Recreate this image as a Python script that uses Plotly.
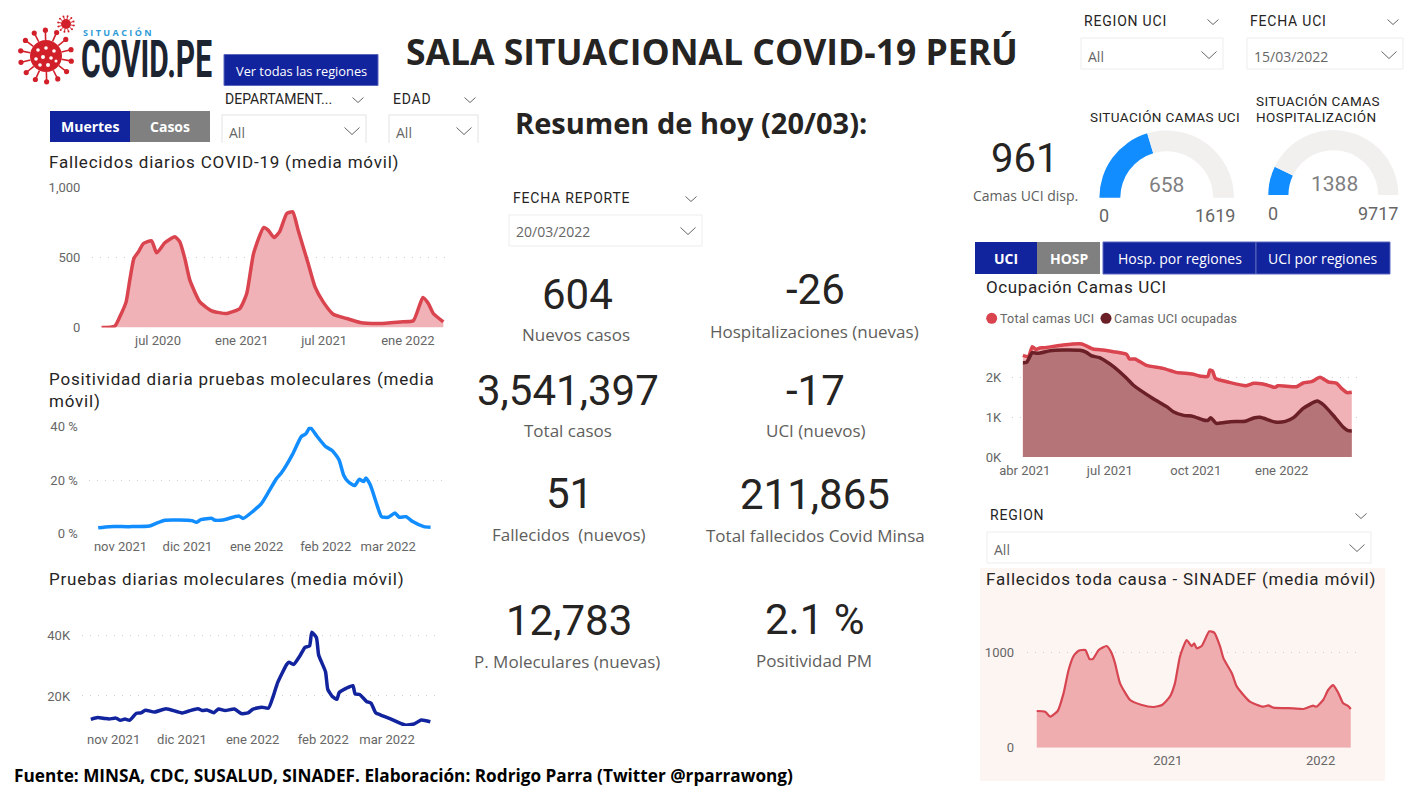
import json
import math
import plotly.graph_objects as go

W, H = 1414, 791

# ---------- DATA ----------
muertes_fechas = ["2020-02-28","2020-03-28","2020-04-08","2020-04-22","2020-04-30","2020-05-09","2020-05-19","2020-05-30","2020-06-17","2020-06-28","2020-07-16","2020-08-07","2020-08-18","2020-08-29","2020-09-09","2020-10-01","2020-10-27","2020-11-29","2020-12-28","2021-01-12","2021-01-27","2021-02-18","2021-02-28","2021-03-13","2021-03-25","2021-04-10","2021-04-23","2021-05-05","2021-05-27","2021-06-11","2021-06-29","2021-07-21","2021-08-20","2021-09-18","2021-11-01","2021-12-15","2022-01-13","2022-02-03","2022-02-15","2022-02-26","2022-03-20"]
muertes_valores = [0,10,76,183,338,493,540,600,619,533,605,648,612,493,338,183,119,100,136,243,529,714,695,643,683,814,826,695,457,290,183,95,64,36,29,40,48,214,171,100,40]

positividad_fechas = ["2021-10-22","2021-10-27","2021-11-05","2021-11-14","2021-11-17","2021-11-21","2021-12-03","2021-12-05","2021-12-07","2021-12-12","2021-12-13","2021-12-17","2021-12-24","2021-12-26","2022-01-03","2022-01-06","2022-01-10","2022-01-12","2022-01-17","2022-01-21","2022-01-23","2022-01-25","2022-01-28","2022-02-01","2022-02-04","2022-02-07","2022-02-09","2022-02-11","2022-02-14","2022-02-16","2022-02-18","2022-02-19","2022-02-21","2022-02-24","2022-02-26","2022-03-01","2022-03-04","2022-03-06","2022-03-09","2022-03-12","2022-03-17","2022-03-20"]
positividad_valores = [2.1,2.5,2.5,2.75,3.75,4.9,4.75,4.1,5.1,5.6,5,5,6.5,5.6,11,15,20.6,22.5,29.4,36.25,37.25,39.75,36.5,32.5,31,27.5,21.9,19.4,17.9,20.25,19.4,20.75,18.1,10.6,6.25,6,7.6,6,6.25,4.4,2.5,2.25]

pruebas_fechas = ["2021-10-22","2021-10-25","2021-10-28","2021-10-30","2021-11-02","2021-11-04","2021-11-06","2021-11-08","2021-11-11","2021-11-13","2021-11-15","2021-11-19","2021-11-24","2021-12-01","2021-12-04","2021-12-08","2021-12-10","2021-12-12","2021-12-15","2021-12-17","2021-12-20","2021-12-24","2021-12-27","2021-12-30","2022-01-01","2022-01-05","2022-01-08","2022-01-10","2022-01-12","2022-01-16","2022-01-17","2022-01-19","2022-01-22","2022-01-24","2022-01-26","2022-01-27","2022-01-29","2022-01-30","2022-02-02","2022-02-03","2022-02-05","2022-02-07","2022-02-08","2022-02-11","2022-02-14","2022-02-15","2022-02-17","2022-02-20","2022-02-22","2022-02-24","2022-02-26","2022-03-02","2022-03-09","2022-03-13","2022-03-16","2022-03-20"]
pruebas_valores = [12300,12900,12600,12400,12700,12000,12400,12000,14300,14400,15300,14700,15800,14400,15050,15800,15200,15400,14500,15700,15200,15700,14200,14400,15600,16300,16000,19800,24400,30400,31100,30400,33500,36000,36500,41000,39300,33500,28000,22200,19800,18900,21100,22500,23400,20700,20500,18200,17600,14500,13800,12600,10400,10800,12100,11500]

uci_total_fechas = ["2021-03-30","2021-04-05","2021-04-09","2021-04-13","2021-04-17","2021-04-22","2021-05-12","2021-06-01","2021-06-13","2021-06-24","2021-07-05","2021-07-19","2021-07-22","2021-07-28","2021-08-09","2021-08-27","2021-09-10","2021-09-27","2021-10-07","2021-10-14","2021-10-16","2021-10-19","2021-10-22","2021-11-06","2021-11-24","2021-12-02","2021-12-12","2021-12-25","2021-12-28","2022-01-17","2022-01-24","2022-02-02","2022-02-11","2022-02-20","2022-03-01","2022-03-06","2022-03-12","2022-03-17"]
uci_total_valores = [2563,2529,2782,2714,2748,2756,2824,2849,2723,2697,2655,2588,2471,2471,2311,2235,2134,2092,2034,2034,2193,2168,1983,1882,1798,1857,1840,1756,1798,1773,1866,1899,2008,1891,1857,1731,1622,1630]

uci_ocupadas_fechas = ["2021-03-30","2021-04-03","2021-04-09","2021-04-15","2021-04-28","2021-05-12","2021-05-30","2021-06-06","2021-06-11","2021-06-20","2021-07-05","2021-07-19","2021-07-26","2021-08-17","2021-08-31","2021-09-07","2021-09-18","2021-09-28","2021-10-09","2021-10-14","2021-10-17","2021-10-23","2021-11-07","2021-11-23","2021-12-02","2021-12-09","2021-12-25","2022-01-05","2022-01-14","2022-01-24","2022-02-08","2022-02-15","2022-02-27","2022-03-08","2022-03-13","2022-03-17"]
uci_ocupadas_valores = [2378,2387,2630,2613,2681,2697,2689,2639,2555,2504,2277,1983,1815,1462,1269,1143,1050,1025,933,924,992,849,891,899,983,1000,882,899,1000,1227,1412,1311,1000,748,664,655]

sinadef_fechas = ["2020-02-23","2020-03-14","2020-03-26","2020-04-13","2020-04-27","2020-05-09","2020-05-21","2020-06-02","2020-06-18","2020-06-28","2020-07-06","2020-07-20","2020-08-08","2020-08-20","2020-08-28","2020-09-09","2020-10-03","2020-10-31","2020-11-28","2020-12-18","2021-01-06","2021-01-18","2021-01-30","2021-02-15","2021-02-27","2021-03-05","2021-03-11","2021-03-23","2021-04-10","2021-04-22","2021-05-06","2021-05-14","2021-06-03","2021-06-15","2021-07-16","2021-08-17","2021-08-29","2021-09-10","2021-10-28","2021-11-21","2021-12-14","2021-12-22","2022-01-07","2022-01-19","2022-01-31","2022-02-12","2022-02-24","2022-03-08","2022-03-14"]
sinadef_valores = [385,378,325,385,570,815,962,1017,1024,930,930,1024,1066,990,885,675,500,448,427,448,535,675,955,1129,1066,1094,1042,1066,1220,1206,1059,937,780,640,483,430,444,420,413,406,441,430,500,605,657,577,465,437,406]

gauge_uci = [658, 1619]
gauge_hosp = [1388, 9717]

ticks_muertes = ["2020-07-01","2021-01-01","2021-07-01","2022-01-01"]
labels_muertes = ["jul 2020","ene 2021","jul 2021","ene 2022"]
ticks_mensual = ["2021-11-01","2021-12-01","2022-01-01","2022-02-01","2022-03-01"]
labels_mensual = ["nov 2021","dic 2021","ene 2022","feb 2022","mar 2022"]
ticks_uci = ["2021-04-01","2021-07-01","2021-10-01","2022-01-01"]
labels_uci = ["abr 2021","jul 2021","oct 2021","ene 2022"]
ticks_sinadef = ["2021-01-01","2022-01-01"]
labels_sinadef = ["2021","2022"]

# ---------- STYLE ----------
RED = "#D9444F"
RED_FILL = "#F0B2B6"
MAROON = "#6B1F27"
MAROON_FILL = "#B57478"
BLUE = "#118DFF"
NAVY = "#12239E"
GREY_BTN = "#808080"
DIN = "Roboto"
SEGOE = "Open Sans"
TXT = "#252423"
SUB = "#605E5C"
TICK = "#666666"


def fx(x):
    return x / W


def fy(y):
    return 1 - y / H


fig = go.Figure()
annotations = []
shapes = []
spacing = {}


def text(s, x, y, size, color=TXT, font=DIN, anchor="left", bold=False, ls=0):
    annotations.append(dict(
        text=f"<b>{s}</b>" if bold else s, x=fx(x), y=fy(y), xref="paper", yref="paper",
        xanchor=anchor, yanchor="middle", showarrow=False,
        font=dict(family=font, size=size, color=color), borderpad=0, borderwidth=0,
    ))
    if ls:
        spacing[s] = ls


def rect(x0, y0, x1, y1, fill, line=None, layer="below"):
    shapes.append(dict(type="rect", xref="paper", yref="paper", layer=layer,
                       x0=fx(x0), x1=fx(x1), y0=fy(y0), y1=fy(y1), fillcolor=fill,
                       line=dict(color=line or fill, width=1 if line else 0)))


def circle(cx, cy, r, fill):
    shapes.append(dict(type="circle", xref="paper", yref="paper", layer="above",
                       x0=fx(cx - r), x1=fx(cx + r), y0=fy(cy - r), y1=fy(cy + r),
                       fillcolor=fill, line=dict(width=0)))


def seg(x0, y0, x1, y1, color, width):
    shapes.append(dict(type="line", xref="paper", yref="paper", layer="above",
                       x0=fx(x0), x1=fx(x1), y0=fy(y0), y1=fy(y1),
                       line=dict(color=color, width=width)))


def chevron(cx, cy, hw, hh, color="#666666"):
    p = f"M {fx(cx-hw)} {fy(cy-hh/2)} L {fx(cx)} {fy(cy+hh/2)} L {fx(cx+hw)} {fy(cy-hh/2)}"
    shapes.append(dict(type="path", xref="paper", yref="paper", layer="above", path=p,
                       line=dict(color=color, width=1)))


def dropdown(label, lx, ly, chx, bx0, by0, bx1, by1, value, vy, open_bottom=False, ls=0.8):
    text(label, lx, ly, 14, TXT, DIN, ls=ls)
    chevron(chx, ly + 1, 5.5, 5)
    if open_bottom:
        p = f"M {fx(bx0)} {fy(by1)} L {fx(bx0)} {fy(by0)} L {fx(bx1)} {fy(by0)} L {fx(bx1)} {fy(by1)}"
        shapes.append(dict(type="path", xref="paper", yref="paper", layer="above", path=p,
                           line=dict(color="#EDEDED", width=1.5)))
    else:
        rect(bx0, by0, bx1, by1, "#FFFFFF", "#EDEDED")
    text(value, bx0 + 7, vy - 1, 14, "#666666", SEGOE)
    chevron(bx1 - 14, vy - 2, 7.5, 7)


def axes(idx, xl, xr, yt, yb, xrange, yrange, tickvals, ticktext, ytickvals, yticktext, gap, xgap=1):
    s = "" if idx == 1 else str(idx)
    fig.layout[f"xaxis{s}"] = dict(
        domain=[fx(xl), fx(xr)], range=xrange, type="date", anchor=f"y{s}",
        tickmode="array", tickvals=tickvals, ticktext=ticktext, showgrid=False, zeroline=False,
        showline=False, ticks="outside", ticklen=xgap, tickcolor="rgba(0,0,0,0)",
        tickfont=dict(family=DIN, size=13, color=TICK), fixedrange=True, automargin=False,
    )
    fig.layout[f"yaxis{s}"] = dict(
        domain=[fy(yb), fy(yt)], range=yrange, anchor=f"x{s}", tickmode="array",
        tickvals=ytickvals, ticktext=yticktext, showgrid=True, gridcolor="#CFCFCF", gridwidth=1,
        griddash="1px,7px", zeroline=False, showline=False, ticks="outside", ticklen=gap,
        tickcolor="rgba(0,0,0,0)", tickfont=dict(family=DIN, size=13, color=TICK),
        fixedrange=True, automargin=False,
    )


def area(xs, ys, xa, ya, color, fill, width=3.5):
    fig.add_trace(go.Scatter(x=xs, y=ys, xaxis=xa, yaxis=ya, mode="lines", fill="tozeroy",
                             fillcolor=fill, line=dict(color=color, width=width, shape="spline", smoothing=0.5),
                             hoverinfo="skip", showlegend=False))


def line(xs, ys, xa, ya, color, width=3.5):
    fig.add_trace(go.Scatter(x=xs, y=ys, xaxis=xa, yaxis=ya, mode="lines",
                             line=dict(color=color, width=width, shape="spline", smoothing=0.5),
                             hoverinfo="skip", showlegend=False))


def gauge(values, cx, cy, r, hole):
    v, vmax = values
    fig.add_trace(go.Pie(values=[v, vmax - v, vmax], sort=False, direction="clockwise", rotation=270,
                         hole=hole, textinfo="none", hoverinfo="skip", showlegend=False,
                         marker=dict(colors=[BLUE, "#F1F0EE", "rgba(0,0,0,0)"], line=dict(width=0)),
                         domain=dict(x=[fx(cx - r), fx(cx + r)], y=[fy(cy + r), fy(cy - r)])))


# ---------- CHARTS ----------
area(muertes_fechas, muertes_valores, "x", "y", RED, RED_FILL)
axes(1, 92, 452, 187.5, 327.5, ["2020-02-07", "2022-04-08"], [0, 1000], ticks_muertes, labels_muertes,
     [0, 500, 1000], ["0", "500", "1,000"], 8)

line(positividad_fechas, positividad_valores, "x2", "y2", BLUE)
axes(2, 89.3, 441.7, 426.7, 533.3, ["2021-10-18", "2022-03-25"], [0, 40], ticks_mensual, labels_mensual,
     [0, 20, 40], ["0 %", "20 %", "40 %"], 8)

line(pruebas_fechas, pruebas_valores, "x3", "y3", NAVY)
axes(3, 81.7, 441.7, 627.7, 726, ["2021-10-18", "2022-03-25"], [10100, 42500], ticks_mensual, labels_mensual,
     [20000, 40000], ["20K", "40K"], 8)

area(uci_total_fechas, uci_total_valores, "x4", "y4", RED, RED_FILL)
area(uci_ocupadas_fechas, uci_ocupadas_valores, "x4", "y4", MAROON, MAROON_FILL)
axes(4, 1011.7, 1358.3, 340, 457, ["2021-03-18", "2022-03-24"], [0, 2950], ticks_uci, labels_uci,
     [0, 1000, 2000], ["0K", "1K", "2K"], 7)

area(sinadef_fechas, sinadef_valores, "x5", "y5", "#D64550", "#EFADB0", 2.2)
axes(5, 1026.7, 1358.3, 628.5, 747.7, ["2020-01-30", "2022-04-01"], [0, 1250], ticks_sinadef, labels_sinadef,
     [0, 1000], ["0", "1000"], 9)

gauge(gauge_uci, 1166.7, 197.7, 67.3, 0.69)
gauge(gauge_hosp, 1333.3, 195, 65, 0.69)

# ---------- LOGO ----------
for cx, cy, core, spike, ball, n in [(46, 56, 16, 24.5, 2.6, 14), (66, 24, 5, 7.5, 1.0, 12)]:
    circle(cx, cy, core, "#D2202A")
    for i in range(n):
        a = 2 * math.pi * i / n + 0.2
        seg(cx + core * math.cos(a), cy + core * math.sin(a),
            cx + spike * math.cos(a), cy + spike * math.sin(a), "#D2202A", 1.6 if core > 10 else 1)
        circle(cx + (spike + ball * 0.5) * math.cos(a), cy + (spike + ball * 0.5) * math.sin(a), ball, "#D2202A")
for dx, dy, r in [(-8, -6, 1.8), (0, -8, 1.8), (8, -5, 1.8), (-10, 3, 1.8), (-3, 1, 2), (5, 2, 1.8), (10, 5, 1.5),
                  (-6, 9, 1.8), (2, 9, 2)]:
    circle(46 + dx, 56 + dy, r, "#FFFFFF")
text("SITUACIÓN", 83, 32, 9, "#2E9BD6", SEGOE, bold=True, ls=2.4)
text("COVID.PE", 81, 58.5, 30, "#1B2430", DIN, bold=True)

# ---------- HEADER ----------
text("SALA SITUACIONAL COVID-19 PERÚ", 712, 51, 35.5, "#252423", SEGOE, "center", True)
text("Resumen de hoy (20/03):", 515, 122, 29, "#252423", SEGOE, bold=True)
text("Fuente: MINSA, CDC, SUSALUD, SINADEF. Elaboración: Rodrigo Parra (Twitter @rparrawong)", 14, 775, 17.2, "#000000", SEGOE, bold=True)

# ---------- BUTTONS ----------
rect(224, 54.5, 378, 85.5, NAVY, "#5A68BE")
text("Ver todas las regiones", 301, 71, 12.8, "#FFFFFF", SEGOE, "center")
rect(50, 111, 130, 142, NAVY)
rect(130, 111, 210, 142, GREY_BTN)
text("Muertes", 90, 127, 14, "#FFFFFF", SEGOE, "center", True)
text("Casos", 170, 127, 14, "#FFFFFF", SEGOE, "center", True)
rect(975, 242, 1037, 274, NAVY)
rect(1037, 242, 1100, 274, GREY_BTN)
text("UCI", 1006, 258, 14, "#FFFFFF", SEGOE, "center", True)
text("HOSP", 1069, 258, 14, "#FFFFFF", SEGOE, "center", True)
rect(1103, 242, 1256, 274, NAVY, "#5A68BE")
rect(1256, 242, 1390, 274, NAVY, "#5A68BE")
text("Hosp. por regiones", 1180, 258, 14, "#FFFFFF", SEGOE, "center")
text("UCI por regiones", 1323, 258, 14, "#FFFFFF", SEGOE, "center")

# ---------- SLICERS ----------
dropdown("DEPARTAMENT...", 225, 99, 358, 222, 115, 366, 143, "All", 133, True, ls=0)
dropdown("EDAD", 393, 99, 470, 389, 115, 478, 143, "All", 133, True)
dropdown("FECHA REPORTE", 513, 198, 691, 509, 215, 702, 246, "20/03/2022", 233)
dropdown("REGION UCI", 1084, 21, 1213, 1081, 38, 1223, 69, "All", 57)
dropdown("FECHA UCI", 1250, 21, 1393, 1247, 38, 1403, 69, "15/03/2022", 57)
dropdown("REGION", 990, 515, 1361, 987, 532, 1371, 563, "All", 550)

# ---------- CHART TITLES ----------
T, TLS = 17, 0.8
text("Fallecidos diarios COVID-19 (media móvil)", 49, 162, T, ls=TLS)
text("Positividad diaria pruebas moleculares (media", 49, 379, T, ls=TLS)
text("móvil)", 49, 401, T, ls=TLS)
text("Pruebas diarias moleculares (media móvil)", 49, 579, T, ls=TLS)
text("Ocupación Camas UCI", 986, 287, T, ls=0.6)
text("Fallecidos toda causa - SINADEF (media móvil)", 986, 579, T, ls=TLS)

# ---------- KPI CARDS ----------
K, L = 42, 17
for value, vx, vy, label, lx, ly in [
    ("604", 577, 294, "Nuevos casos", 576, 334),
    ("-26", 815, 290, "Hospitalizaciones (nuevas)", 814, 331),
    ("3,541,397", 568, 390, "Total casos", 568, 430),
    ("-17", 815, 390, "UCI (nuevos)", 816, 430),
    ("51", 569, 493, "Fallecidos  (nuevos)", 569, 534),
    ("211,865", 815, 494, "Total fallecidos Covid Minsa", 815, 535),
    ("12,783", 569, 620, "P. Moleculares (nuevas)", 567, 661),
    ("2.1 %", 814, 619, "Positividad PM", 814, 660),
    ("961", 1024, 158, "Camas UCI disp.", 1025, 195),
]:
    text(value, vx, vy, 40 if value == "961" else K, TXT, DIN, "center")
    text(label, lx, ly, 14 if value == "961" else L, SUB, SEGOE, "center")

# ---------- GAUGE TEXT ----------
text("SITUACIÓN CAMAS UCI", 1090, 117, 13.5, TXT, DIN, ls=0.4)
text("SITUACIÓN CAMAS", 1256, 101, 13.5, TXT, DIN, ls=0.4)
text("HOSPITALIZACIÓN", 1256, 117, 13.5, TXT, DIN, ls=0.4)
text(str(gauge_uci[0]), 1166, 185, 21, "#7F7F7F", DIN, "center")
text(str(gauge_hosp[0]), 1334, 184, 21, "#7F7F7F", DIN, "center")
text("0", 1104, 215, 18, "#666666", DIN, "center")
text(str(gauge_uci[1]), 1215, 215, 18, "#666666", DIN, "center")
text("0", 1273, 213, 18, "#666666", DIN, "center")
text(str(gauge_hosp[1]), 1378, 213, 18, "#666666", DIN, "center")

# ---------- LEGEND ----------
circle(991.7, 318.3, 5.5, RED)
text("Total camas UCI", 1000, 319, 12.5, "#666666", DIN, ls=0.2)
circle(1106, 318.3, 5.5, MAROON)
text("Camas UCI ocupadas", 1114, 319, 12.5, "#666666", DIN, ls=0.2)

# ---------- SINADEF PANEL ----------
rect(980, 568, 1385, 781, "#FDF5F2")

fig.update_layout(width=W, height=H, margin=dict(l=0, r=0, t=0, b=0), autosize=False,
                  paper_bgcolor="#FFFFFF", plot_bgcolor="rgba(0,0,0,0)", showlegend=False,
                  annotations=annotations, shapes=shapes)

post = ("document.body.style.margin='0';document.body.style.overflow='hidden';"
        "var ls=" + json.dumps(spacing) + ";"
        "document.querySelectorAll('.annotation-text').forEach(function(t){"
        "var s=t.textContent;if(ls[s]){var w0=t.getComputedTextLength();t.style.letterSpacing=ls[s]+'px';"
        "var w1=t.getComputedTextLength();"
        "t.setAttribute('x',parseFloat(t.getAttribute('x')||0)+(w1-w0)/2);}"
        "if(s==='COVID.PE'){t.style.transformBox='fill-box';t.style.transformOrigin='center';"
        "t.style.transform='scale(1,1.74)';}});")

fig.write_html("out.html", config=dict(displayModeBar=False, staticPlot=True), post_script=post)
